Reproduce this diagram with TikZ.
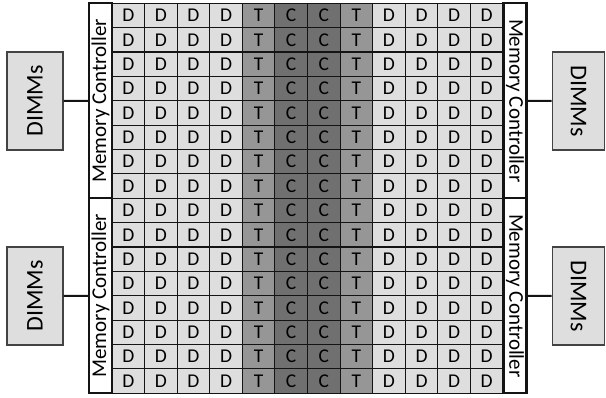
\documentclass[tikz,border=0pt]{standalone}
\usepackage{fontspec}
\setmainfont{Carlito}
\definecolor{dcell}{RGB}{222,222,222}
\definecolor{tcell}{RGB}{150,150,150}
\definecolor{ccell}{RGB}{112,112,112}
\definecolor{dimmfill}{RGB}{222,222,222}
\definecolor{edge}{RGB}{20,20,20}
\begin{document}
\begin{tikzpicture}[x=1pt,y=-1pt,
  cellbox/.style={draw=edge,line width=1.1pt,minimum width=32.58pt,minimum height=24.375pt,inner sep=0pt,anchor=center,font=\fontsize{19.5}{19.5}\selectfont},
  mcbox/.style={draw=edge,line width=2.2pt,fill=white,minimum width=195pt,minimum height=23pt,inner sep=0pt,font=\fontsize{21}{21}\selectfont},
  dimmbox/.style={draw=edge!80,line width=1.2pt,fill=dimmfill,minimum width=98pt,inner sep=0pt,font=\fontsize{24}{24}\selectfont},
  link/.style={draw=edge,line width=2pt}]
\useasboundingbox (0,0) rectangle (606,398);
% grid cells
\foreach \r in {1,...,16}{
  \foreach \c/\t/\col in {1/D/dcell,2/D/dcell,3/D/dcell,4/D/dcell,5/T/tcell,6/C/ccell,7/C/ccell,8/T/tcell,9/D/dcell,10/D/dcell,11/D/dcell,12/D/dcell}{
    \node[cellbox,fill=\col] (cell-\r-\c) at ({112+(\c-0.5)*32.58},{3.3+(\r-0.5)*24.375}) {\t};
  }
}
% memory controllers
\node[mcbox,rotate=90] (mcL1) at (100.5,100.8) {Memory Controller};
\node[mcbox,rotate=90] (mcL2) at (100.5,295.8) {Memory Controller};
\node[mcbox,rotate=-90] (mcR1) at (515,100.8) {Memory Controller};
\node[mcbox,rotate=-90] (mcR2) at (515,295.8) {Memory Controller};
% DIMMs
\node[dimmbox,rotate=90,minimum height=56pt] (dL1) at (35,101) {DIMMs};
\node[dimmbox,rotate=90,minimum height=56pt] (dL2) at (35,296) {DIMMs};
\node[dimmbox,rotate=-90,minimum height=52.5pt] (dR1) at (578.5,101) {DIMMs};
\node[dimmbox,rotate=-90,minimum height=52.5pt] (dR2) at (578.5,296) {DIMMs};
% connectors
\draw[link] (dL1.south) -- (mcL1.north);
\draw[link] (dL2.south) -- (mcL2.north);
\draw[link] (mcR1.north) -- (dR1.south);
\draw[link] (mcR2.north) -- (dR2.south);
\end{tikzpicture}
\end{document}
